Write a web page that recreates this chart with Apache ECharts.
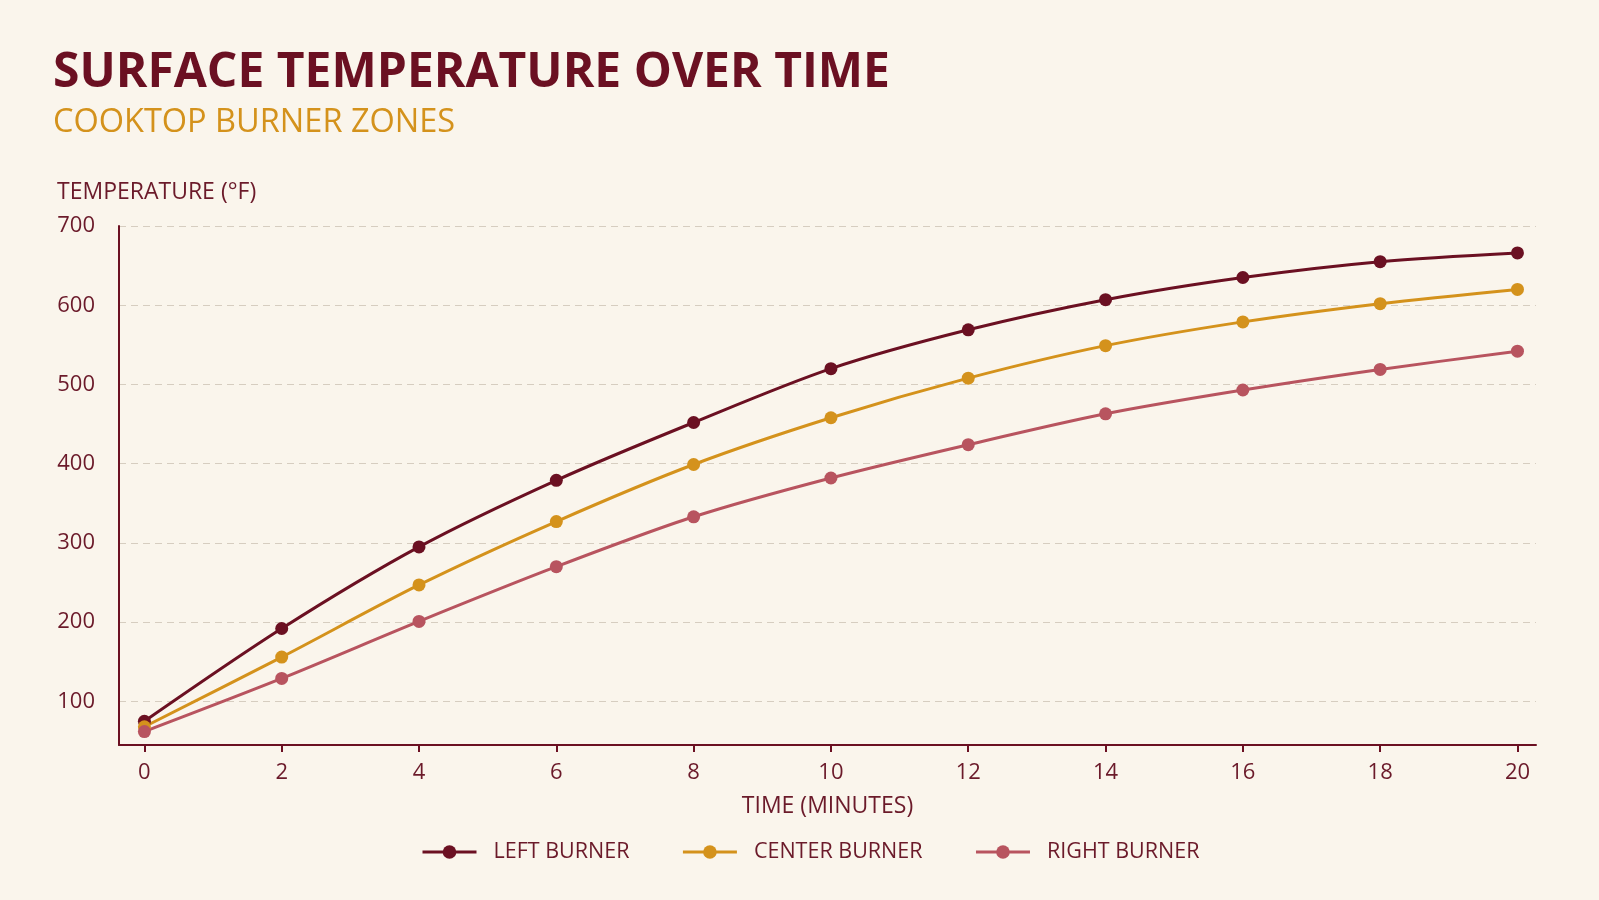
<!DOCTYPE html>
<html>
<head>
<meta charset="utf-8">
<title>Surface temperature over time</title>
<script src="https://cdn.jsdelivr.net/npm/echarts@6/dist/echarts.min.js"></script>
<style>
  html, body { margin: 0; padding: 0; background: #faf5ec; }
  #main { width: 1599px; height: 900px; }
</style>
</head>
<body>
<div id="main"></div>
<script>
// data
var minutes = [0, 2, 4, 6, 8, 10, 12, 14, 16, 18, 20];
var leftBurner = [75, 192, 295, 379, 452, 520, 569, 607, 635, 655, 666];
var centerBurner = [68, 156, 247, 327, 399, 458, 508, 549, 579, 602, 620];
var rightBurner = [62, 129, 201, 270, 333, 382, 424, 463, 493, 519, 542];
var tempTicks = [100, 200, 300, 400, 500, 600, 700];

var maroon = '#6b1022';
var gold = '#d4921c';
var rose = '#b8545f';
var ink = '#6b1a2a';

function pairs(vals) {
    return minutes.map(function (m, i) { return [m, vals[i]]; });
}

function lineSeries(name, vals, color) {
    return {
        name: name,
        type: 'line',
        data: pairs(vals),
        smooth: 0.3,
        symbol: 'circle',
        symbolSize: 13,
        lineStyle: { width: 3, color: color },
        itemStyle: { color: color },
        emphasis: { disabled: true }
    };
}

var myChart = echarts.init(document.getElementById('main'));
var option = {
    backgroundColor: '#faf5ec',
    animation: false,
    textStyle: { fontFamily: 'Open Sans' },
    title: [{
        text: 'SURFACE TEMPERATURE OVER TIME',
        left: 48,
        top: 44,
        textStyle: { fontFamily: 'Open Sans', fontSize: 48, fontWeight: 'bold', color: maroon }
    }, {
        text: 'COOKTOP BURNER ZONES',
        left: 48,
        top: 101,
        textStyle: { fontFamily: 'Open Sans', fontSize: 32.5, fontWeight: 'normal', color: gold }
    }],
    grid: { left: 119, right: 63, top: 226, bottom: 155, containLabel: false, outerBoundsMode: 'none' },
    legend: {
        left: 416,
        top: 836,
        itemWidth: 54,
        itemHeight: 17,
        itemGap: 52,
        lineStyle: { width: 3 },
        textStyle: { fontSize: 21.5, color: ink, padding: [0, 0, 0, 12] },
        data: ['LEFT BURNER', 'CENTER BURNER', 'RIGHT BURNER']
    },
    xAxis: {
        type: 'value',
        min: -0.37,
        max: 20.27,
        name: 'TIME (MINUTES)',
        nameLocation: 'middle',
        nameGap: 50,
        nameTextStyle: { fontSize: 23, color: ink },
        axisLine: { onZero: false, lineStyle: { color: maroon, width: 2 } },
        axisTick: { show: true, length: 7, customValues: minutes, lineStyle: { color: maroon, width: 2 } },
        axisLabel: { customValues: minutes, fontSize: 22, color: ink, margin: 17 },
        splitLine: { show: false }
    },
    yAxis: {
        type: 'value',
        min: 45,
        max: 700,
        interval: 100,
        name: 'TEMPERATURE (°F)',
        nameLocation: 'end',
        nameGap: 22,
        nameTextStyle: { fontSize: 23, color: ink, align: 'left', padding: [0, 0, 0, -62] },
        axisLine: { show: true, onZero: false, lineStyle: { color: maroon, width: 2 } },
        axisTick: { show: false, customValues: tempTicks },
        axisLabel: { customValues: tempTicks, fontSize: 22, color: ink, margin: 24 },
        splitLine: { show: true, lineStyle: { color: '#d6cdc0', type: [7, 5], width: 1.2 } }
    },
    series: [
        lineSeries('LEFT BURNER', leftBurner, maroon),
        lineSeries('CENTER BURNER', centerBurner, gold),
        lineSeries('RIGHT BURNER', rightBurner, rose)
    ]
};
myChart.setOption(option);
</script>
</body>
</html>
